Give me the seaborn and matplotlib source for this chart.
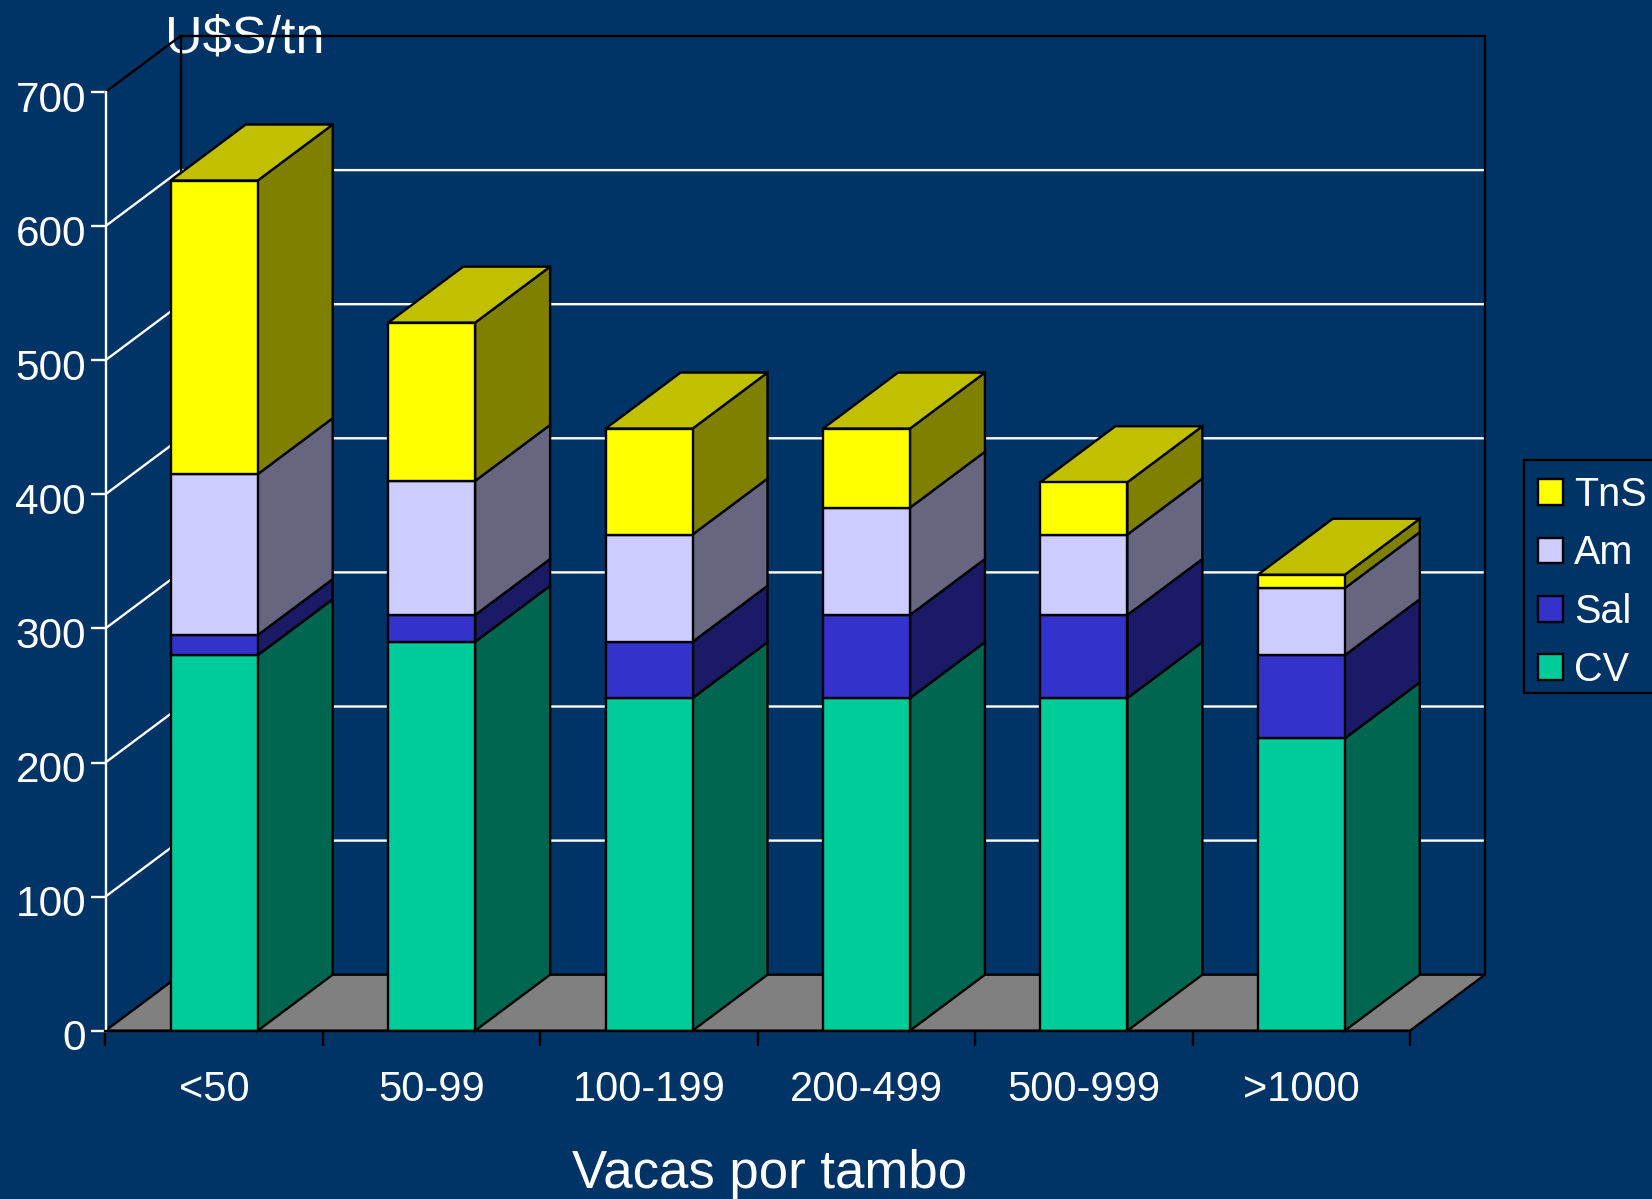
import matplotlib
matplotlib.use('Agg')
import numpy as np
import pandas as pd
import matplotlib.pyplot as plt
import seaborn as sns
from matplotlib.patches import Patch, Polygon, Rectangle
from matplotlib.transforms import ScaledTranslation

categories = ['<50', '50-99', '100-199', '200-499', '500-999', '>1000']
cv = [280, 290, 248, 248, 248, 218]
sal = [15, 20, 42, 62, 62, 62]
am = [120, 100, 80, 80, 60, 50]
tns = [219, 118, 79, 59, 39, 10]

series_names = ['CV', 'Sal', 'Am', 'TnS']
front_colors = ['#00CC99', '#3333CC', '#CCCCFF', '#FFFF00']
side_colors = ['#006650', '#1A1A66', '#666680', '#808000']
top_color = '#C0C000'
bg = '#003366'

W, H = 1652, 1199
# front plane of the fake 3D box, in pixels
left, right, y0, y700 = 105.5, 1410, 1030.7, 92
# depth of the box in data units
dx = 75 / ((right - left) / 6)
dy = 56 / ((y0 - y700) / 700)
lw = 1.7

sns.set_style('white')
plt.rcParams['font.family'] = ['Liberation Sans', 'DejaVu Sans']

fig = plt.figure(figsize=(W / 100, H / 100), dpi=100, facecolor=bg)
ax = fig.add_axes([left / W, 1 - y0 / H, (right - left) / W, (y0 - y700) / H], facecolor='none')

df = pd.DataFrame({'category': categories, 'CV': cv, 'Sal': sal, 'Am': am, 'TnS': tns})

bottom = np.zeros(len(categories))
for name, col in zip(series_names, front_colors):
    sns.barplot(data=df, x='category', y=name, order=categories, color=col, saturation=1,
                width=0.4, bottom=bottom, edgecolor='black', linewidth=lw,
                errorbar=None, ax=ax, zorder=4)
    bottom = bottom + df[name].to_numpy()

ax.set_xlim(-0.5, 5.5)
ax.set_ylim(0, 700)

# side and top faces, taken from the bars seaborn drew
for i, side in enumerate(side_colors):
    for bar in ax.containers[i]:
        x0, x1 = bar.get_x(), bar.get_x() + bar.get_width()
        b, t = bar.get_y(), bar.get_y() + bar.get_height()
        ax.add_patch(Polygon([(x1, b), (x1 + dx, b + dy), (x1 + dx, t + dy), (x1, t)],
                             facecolor=side, edgecolor='black', lw=lw, zorder=3, clip_on=False))
        if i == len(side_colors) - 1:
            ax.add_patch(Polygon([(x0, t), (x1, t), (x1 + dx, t + dy), (x0 + dx, t + dy)],
                                 facecolor=top_color, edgecolor='black', lw=lw, zorder=3, clip_on=False))

# floor
ax.add_patch(Polygon([(-0.5, 0), (5.5, 0), (5.5 + dx, dy), (-0.5 + dx, dy)],
                     facecolor='#808080', edgecolor='black', lw=lw, zorder=1, clip_on=False))

# walls and gridlines
yticks = np.arange(0, 800, 100)
for v in yticks[1:-1]:
    ax.plot([-0.5, -0.5 + dx, 5.5 + dx], [v, v + dy, v + dy], color='white', lw=lw, zorder=1, clip_on=False)
ax.plot([-0.5, -0.5 + dx, 5.5 + dx, 5.5 + dx], [700, 700 + dy, 700 + dy, dy],
        color='black', lw=lw, zorder=1.5, clip_on=False)
ax.plot([-0.5 + dx, -0.5 + dx], [dy, 700 + dy], color='black', lw=lw, zorder=1.5, clip_on=False)

# axes
sns.despine(ax=ax, top=True, right=True)
ax.spines['left'].set_color('white')
ax.spines['left'].set_linewidth(lw)
ax.spines['bottom'].set_color('black')
ax.spines['bottom'].set_linewidth(lw)
ax.spines['bottom'].set_zorder(5)

ax.set_yticks(yticks)
ax.tick_params(axis='y', length=11, width=lw, color='white', labelcolor='white', labelsize=30.5, pad=3, left=True)
for lab in ax.get_yticklabels():
    lab.set_transform(lab.get_transform() + ScaledTranslation(0, -4 / 100, fig.dpi_scale_trans))

ax.set_xticks(range(6))
ax.set_xticklabels(categories)
ax.set_xticks(np.arange(-0.5, 6, 1), minor=True)
ax.tick_params(axis='x', which='major', length=0, labelcolor='white', labelsize=30, pad=28)
ax.tick_params(axis='x', which='minor', length=11, width=lw, color='black', bottom=True)

ax.set_xlabel('Vacas por tambo', color='white', fontsize=38, va='baseline')
ax.xaxis.set_label_coords((770 - left) / (right - left), -(1188 - y0) / (y0 - y700))
ax.set_ylabel('U$S/tn', color='white', fontsize=37.5, rotation=0, ha='left', va='baseline')
ax.yaxis.set_label_coords((165 - left) / (right - left), (y0 - 52) / (y0 - y700))

# legend box runs off the right edge of the figure
fig.add_artist(Rectangle((1524 / W, 1 - 693 / H), 200 / W, 233 / H, transform=fig.transFigure,
                         facecolor=bg, edgecolor='black', lw=lw, zorder=-1))
handles = [Patch(facecolor=c, edgecolor='black', lw=lw, label=n)
           for n, c in zip(series_names[::-1], front_colors[::-1])]
leg = ax.legend(handles=handles, loc='upper left', bbox_to_anchor=(1538 / W, 1 - 476 / H),
                bbox_transform=fig.transFigure, borderaxespad=0, fontsize=28.5, labelcolor='white',
                frameon=False, handlelength=0.62, handleheight=0.62, handletextpad=0.3,
                labelspacing=0.515, borderpad=0)
leg.set_zorder(6)

fig.savefig('out.png', dpi=100, facecolor=fig.get_facecolor())
